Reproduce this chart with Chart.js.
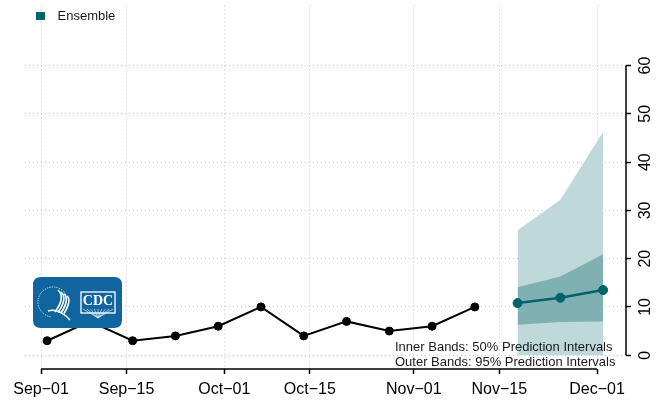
<!DOCTYPE html>
<html><head><meta charset="utf-8">
<script src="https://cdn.jsdelivr.net/npm/chart.js@4/dist/chart.umd.min.js"></script>
<style>html,body{margin:0;padding:0;background:#fff;}canvas{display:block}</style>
</head><body>
<canvas id="c" width="666" height="402"></canvas>
<script>
// ---- data ----
const seriesName = 'Ensemble';
const observedDates = ['2023-09-02','2023-09-09','2023-09-16','2023-09-23','2023-09-30','2023-10-07','2023-10-14','2023-10-21','2023-10-28','2023-11-04','2023-11-11'];
const observedValues = [3, 7, 3, 4, 6, 10, 4, 7, 5, 6, 10];
const forecastDates = ['2023-11-18','2023-11-25','2023-12-02'];
const forecastMedian = [10.8, 11.9, 13.5];
const lower50 = [6.3, 6.9, 7.0];
const upper50 = [14.1, 16.3, 20.9];
const lower95 = [0, 0, 0];
const upper95 = [25.9, 32.2, 46.3];
const xTickDates = ['2023-09-01','2023-09-15','2023-10-01','2023-10-15','2023-11-01','2023-11-15','2023-12-01'];
const xTickLabels = ['Sep\u221201','Sep\u221215','Oct\u221201','Oct\u221215','Nov\u221201','Nov\u221215','Dec\u221201'];
const yTickValues = [0, 10, 20, 30, 40, 50, 60];
const yTickLabels = ['0','10','20','30','40','50','60'];
const bandNotes = ['Inner Bands: 50% Prediction Intervals', 'Outer Bands: 95% Prediction Intervals'];

// ---- helpers ----
const FONT = '"Liberation Sans", Arial, Helvetica, sans-serif';
const origin = Date.UTC(2023, 8, 1);
const day = s => (Date.parse(s + 'T00:00:00Z') - origin) / 86400000;
const pts = (dates, vals) => dates.map((d, i) => ({x: day(d), y: vals[i]}));

const TEAL = '#006367';
const INNER = '#7fb1b2';
const OUTER = '#bfd8d9';
const GRID = '#c4c4c4';

const xMin = -2.62, xMax = 95.74;
const yMin = -2.86, yMax = 72.45;

const decor = {
  id: 'decor',
  afterDraw(chart) {
    const ctx = chart.ctx;
    const xs = chart.scales.x, ys = chart.scales.y;
    ctx.save();
    // axis lines (R style, from first to last tick)
    ctx.strokeStyle = '#000';
    ctx.lineWidth = 1.5;
    ctx.beginPath();
    const ab = chart.chartArea.bottom;
    ctx.moveTo(xs.getPixelForValue(day(xTickDates[0])), ab);
    ctx.lineTo(xs.getPixelForValue(day(xTickDates[xTickDates.length - 1])), ab);
    const ar = chart.chartArea.right;
    ctx.moveTo(ar, ys.getPixelForValue(yTickValues[0]));
    ctx.lineTo(ar, ys.getPixelForValue(yTickValues[yTickValues.length - 1]));
    ctx.stroke();
    // rotated y labels
    ctx.fillStyle = '#000';
    ctx.font = '16px ' + FONT;
    ctx.textAlign = 'center';
    ctx.textBaseline = 'middle';
    yTickValues.forEach((v, i) => {
      ctx.save();
      ctx.translate(ar + 20, ys.getPixelForValue(v));
      ctx.rotate(-Math.PI / 2);
      ctx.fillText(yTickLabels[i], 0, 0);
      ctx.restore();
    });
    // legend
    ctx.fillStyle = TEAL;
    ctx.fillRect(36, 12, 9, 8);
    ctx.fillStyle = '#1a1a1a';
    ctx.font = '13px ' + FONT;
    ctx.textAlign = 'left';
    ctx.fillText(seriesName, 57.5, 16.5);
    // band notes
    ctx.fillText(bandNotes[0], 395, 347);
    ctx.fillText(bandNotes[1], 395, 362);
    // CDC logo
    drawLogo(ctx);
    ctx.restore();
  }
};

function rr(ctx, x, y, w, h, r) {
  ctx.beginPath();
  ctx.moveTo(x + r, y);
  ctx.lineTo(x + w - r, y); ctx.quadraticCurveTo(x + w, y, x + w, y + r);
  ctx.lineTo(x + w, y + h - r); ctx.quadraticCurveTo(x + w, y + h, x + w - r, y + h);
  ctx.lineTo(x + r, y + h); ctx.quadraticCurveTo(x, y + h, x, y + h - r);
  ctx.lineTo(x, y + r); ctx.quadraticCurveTo(x, y, x + r, y);
  ctx.closePath();
}
function drawLogo(ctx) {
  ctx.save();
  ctx.fillStyle = '#10659f';
  rr(ctx, 33, 277, 89, 51, 8);
  ctx.fill();
  // seal ring (dotted)
  ctx.strokeStyle = 'rgba(255,255,255,0.85)';
  ctx.lineWidth = 1;
  ctx.setLineDash([1.2, 1.2]);
  ctx.beginPath();
  ctx.arc(53, 302, 15, Math.PI * 0.55, Math.PI * 1.85);
  ctx.stroke();
  ctx.setLineDash([]);
  // eagle stripes
  ctx.strokeStyle = '#fff';
  ctx.lineWidth = 1.6;
  for (let i = 0; i < 4; i++) {
    ctx.beginPath();
    ctx.moveTo(58 + i * 3, 290 + i * 2);
    ctx.quadraticCurveTo(66 + i * 2, 297 + i, 55 + i * 3, 312 + i * 0.5);
    ctx.stroke();
  }
  ctx.beginPath();
  ctx.moveTo(48, 311);
  ctx.quadraticCurveTo(56, 308, 66, 316);
  ctx.lineTo(70, 320);
  ctx.stroke();
  // CDC box
  ctx.lineWidth = 1.3;
  ctx.strokeRect(81, 292, 34, 21);
  ctx.lineWidth = 0.6;
  for (let k = 0; k < 9; k++) {
    ctx.beginPath();
    ctx.moveTo(98, 318);
    ctx.lineTo(83 + k * 3.75, 309);
    ctx.stroke();
  }
  ctx.fillStyle = '#10659f';
  ctx.fillRect(82.5, 294, 31, 14);
  ctx.fillStyle = '#fff';
  ctx.font = 'bold 14px "Liberation Serif", "Times New Roman", serif';
  ctx.textAlign = 'center';
  ctx.textBaseline = 'middle';
  ctx.fillText('CDC', 98, 301.5);
  ctx.restore();
}

const bandDs = (data, color, fill, order) => ({
  data, fill, backgroundColor: color, borderColor: 'rgba(0,0,0,0)', borderWidth: 0,
  pointRadius: 0, pointHoverRadius: 0, tension: 0, order
});

new Chart(document.getElementById('c'), {
  type: 'line',
  data: {
    datasets: [
      { label: 'Observed', data: pts(observedDates, observedValues), borderColor: '#000', backgroundColor: '#000',
        borderWidth: 2, pointRadius: 4, pointBorderWidth: 1, tension: 0, fill: false, order: 1 },
      { label: seriesName, data: pts(forecastDates, forecastMedian), borderColor: TEAL, backgroundColor: TEAL,
        borderWidth: 2.5, pointRadius: 4.5, pointBorderWidth: 1, tension: 0, fill: false, order: 0 },
      bandDs(pts(forecastDates, lower95), OUTER, false, 5),
      bandDs(pts(forecastDates, upper95), OUTER, '-1', 4),
      bandDs(pts(forecastDates, lower50), INNER, false, 3),
      bandDs(pts(forecastDates, upper50), INNER, '-1', 2)
    ]
  },
  options: {
    responsive: false,
    devicePixelRatio: 1,
    animation: false,
    layout: { padding: { left: 25, top: 0, right: 0, bottom: 0 } },
    plugins: { legend: { display: false }, tooltip: { enabled: false } },
    scales: {
      x: {
        type: 'linear', min: xMin, max: xMax,
        afterBuildTicks: s => { s.ticks = xTickDates.map(d => ({ value: day(d) })); },
        afterFit: s => { s.height = 33; },
        ticks: { autoSkip: false, maxRotation: 0, minRotation: 0, padding: 6, color: '#000',
          font: { size: 16, family: FONT }, callback: (v, i) => xTickLabels[i] },
        grid: { color: GRID, lineWidth: 1, drawTicks: true, tickLength: 5, tickColor: '#000', tickWidth: 1.5 },
        border: { display: false, dash: [1, 3] }
      },
      y: {
        position: 'right', min: yMin, max: yMax,
        afterBuildTicks: s => { s.ticks = yTickValues.map(v => ({ value: v })); },
        afterFit: s => { s.width = 40; },
        ticks: { display: false },
        grid: { color: GRID, lineWidth: 1, drawTicks: true, tickLength: 5, tickColor: '#000', tickWidth: 1.5 },
        border: { display: false, dash: [1, 3] }
      }
    }
  },
  plugins: [decor]
});
</script>
</body></html>
